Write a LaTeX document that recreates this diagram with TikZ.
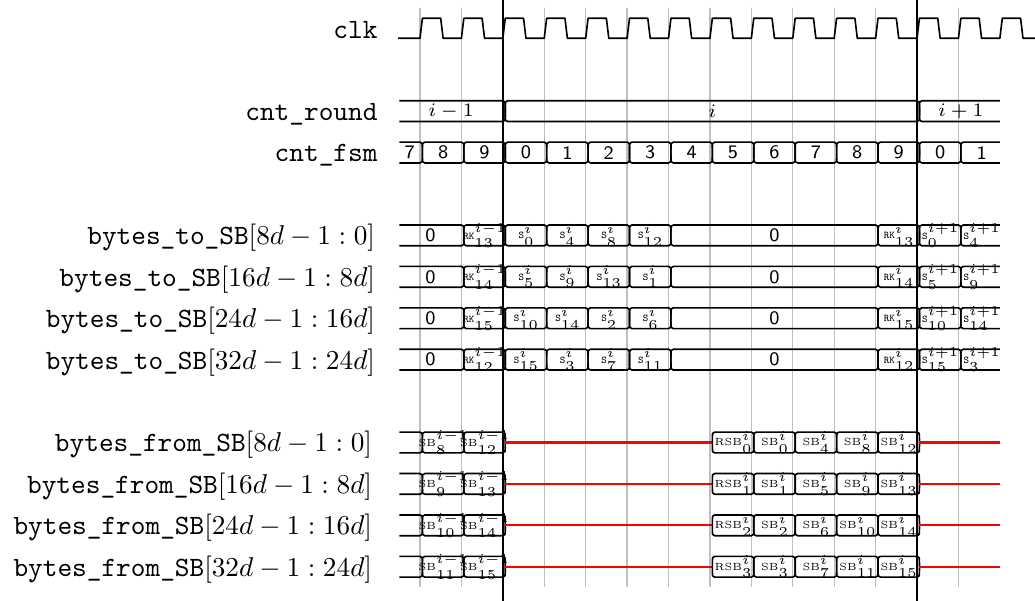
\documentclass[tikz,border=0pt]{standalone}

% scripts of the byte names keep the size of their base line
\DeclareMathSizes{4.3}{4.3}{4.3}{4.3}
\setlength\scriptspace{0pt}

% one bus segment with curved transitions at both ends
% #1 node name, #2 extra node style, #3 row index, #4 start slot, #5 end slot, #6 value
\newcommand\busB[6]{%
  \pgfmathsetmacro\xa{420+41.42*(#4)}%
  \pgfmathsetmacro\xb{420+41.42*(#5)}%
  \pgfmathsetmacro\yc{28.3+41.42*(#3)}%
  \pgfmathsetmacro\yt{\yc-10.4}\pgfmathsetmacro\yb{\yc+10.4}%
  \pgfmathsetmacro\xl{\xa+2.4}\pgfmathsetmacro\xL{\xa+4.8}%
  \pgfmathsetmacro\xr{\xb+2.4}%
  \draw[sig] (\xl,\yc) .. controls (\xl,\yt) .. (\xL,\yt) -- (\xb,\yt)
    .. controls (\xr,\yt) .. (\xr,\yc) .. controls (\xr,\yb) .. (\xb,\yb)
    -- (\xL,\yb) .. controls (\xl,\yb) .. (\xl,\yc) -- cycle;
  \node[val,#2] (#1) at ({(\xL+\xb)/2},\yc) {#6};}

% bus segment that starts flat at the left edge of the trace
\newcommand\busL[6]{%
  \pgfmathsetmacro\xa{420+41.42*(#4)}%
  \pgfmathsetmacro\xb{420+41.42*(#5)}%
  \pgfmathsetmacro\yc{28.3+41.42*(#3)}%
  \pgfmathsetmacro\yt{\yc-10.4}\pgfmathsetmacro\yb{\yc+10.4}%
  \pgfmathsetmacro\xr{\xb+2.4}%
  \draw[sig] (\xa,\yt) -- (\xb,\yt)
    .. controls (\xr,\yt) .. (\xr,\yc) .. controls (\xr,\yb) .. (\xb,\yb)
    -- (\xa,\yb);
  \node[val,#2] (#1) at ({(\xa+\xb)/2},\yc) {#6};}

% bus segment that ends flat at the right edge of the trace
\newcommand\busR[6]{%
  \pgfmathsetmacro\xa{420+41.42*(#4)}%
  \pgfmathsetmacro\xb{420+41.42*(#5)}%
  \pgfmathsetmacro\yc{28.3+41.42*(#3)}%
  \pgfmathsetmacro\yt{\yc-10.4}\pgfmathsetmacro\yb{\yc+10.4}%
  \pgfmathsetmacro\xl{\xa+2.4}\pgfmathsetmacro\xL{\xa+4.8}%
  \draw[sig] (\xb,\yt) -- (\xL,\yt) .. controls (\xl,\yt) .. (\xl,\yc)
    .. controls (\xl,\yb) .. (\xL,\yb) -- (\xb,\yb);
  \node[val,#2] (#1) at ({(\xL+\xb)/2},\yc) {#6};}

% high-impedance stretch of a bus, between two slot positions
\newcommand\busZ[3]{%
  \pgfmathsetmacro\xa{420+41.42*(#2)+2.4}%
  \pgfmathsetmacro\xb{420+41.42*(#3)+2.4}%
  \pgfmathsetmacro\yc{28.3+41.42*(#1)}%
  \draw[hiz] (\xa,\yc) -- (\xb,\yc);}

% byte names inside the bus segments
\newcommand\bytebase{\fontsize{3.8}{4.5}\selectfont}
\newcommand\tRK[2]{$\mbox{\bytebase\ttfamily RK}^{#1}_{#2}$}
\newcommand\tS[2]{$\mbox{\bytebase\ttfamily S}^{#1}_{#2}$}
\newcommand\tSB[2]{$\mbox{\bytebase SB}^{#1}_{#2}$}
\newcommand\tRSB[2]{$\mbox{\bytebase RSB}^{#1}_{#2}$}

\begin{document}
\begin{tikzpicture}[x=0.3667pt,y=-0.3667pt,
  sig/.style={line width=0.6pt,line join=round},
  gridline/.style={line width=0.45pt,draw=black!25},
  roundline/.style={line width=0.75pt},
  hiz/.style={draw=red,line width=0.75pt},
  lbl/.style={anchor=base east,inner sep=0pt,font=\fontsize{10.25}{12}\selectfont},
  val/.style={inner sep=0pt,font=\sffamily\scriptsize},
  byte/.style={font=\fontsize{4.3}{5.2}\selectfont},
  rnd/.style={font=\scriptsize}]
\useasboundingbox (0,0) rectangle (1035,601);

% clock period grid
\foreach \k in {0,1,3,4,5,6,7,8,9,10,11,13}
  \draw[gridline] ({420+41.42*\k},8) -- ({420+41.42*\k},587);

% signal names
\node[lbl] (nclk)   at (378,38.3)   {\texttt{clk}};
\node[lbl] (nround) at (378,120.6)  {\texttt{cnt\_round}};
\node[lbl] (nfsm)   at (378,162.0)  {\texttt{cnt\_fsm}};
\node[lbl] (nto0)   at (375.6,244.9)  {\texttt{bytes\_to\_SB}$[8d-1:0]$};
\node[lbl] (nto1)   at (375.6,286.3)  {\texttt{bytes\_to\_SB}$[16d-1:8d]$};
\node[lbl] (nto2)   at (375.6,327.7)  {\texttt{bytes\_to\_SB}$[24d-1:16d]$};
\node[lbl] (nto3)   at (375.6,369.1)  {\texttt{bytes\_to\_SB}$[32d-1:24d]$};
\node[lbl] (nfrom0) at (372.6,452.0)  {\texttt{bytes\_from\_SB}$[8d-1:0]$};
\node[lbl] (nfrom1) at (372.6,493.4)  {\texttt{bytes\_from\_SB}$[16d-1:8d]$};
\node[lbl] (nfrom2) at (372.6,534.8)  {\texttt{bytes\_from\_SB}$[24d-1:16d]$};
\node[lbl] (nfrom3) at (372.6,576.2)  {\texttt{bytes\_from\_SB}$[32d-1:24d]$};

% clk
\draw[sig] (398,38.3) foreach \k in {0,...,14} {
    -- ({420+41.42*\k},38.3) -- ({422.4+41.42*\k},18.3)
    -- ({440.71+41.42*\k},18.3) -- ({443.11+41.42*\k},38.3) }
  -- (1035,38.3);

% cnt_round
\busL{r0}{rnd}{2}{-0.5}{2}{$i-1$}
\busB{r1}{rnd}{2}{2}{12}{$i$}
\busR{r2}{rnd}{2}{12}{14}{$i+1$}

% cnt_fsm
\busL{fs}{}{3}{-0.5}{0}{7}
\foreach \k/\v in {0/8,1/9,2/0,3/1,4/2,5/3,6/4,7/5,8/6,9/7,10/8,11/9,12/0}
  {\busB{f\k}{}{3}{\k}{\k+1}{\v}}
\busR{fe}{}{3}{13}{14}{1}

% bytes_to_SB lanes
\foreach \r/\rk/\a/\b/\c/\d/\e/\f [count=\n] in
  {5/13/0/4/8/12/0/4, 6/14/5/9/13/1/5/9, 7/15/10/14/2/6/10/14, 8/12/15/3/7/11/15/3}
{
  \busL{t\n a}{}{\r}{-0.5}{1}{0}
  \busB{t\n b}{byte}{\r}{1}{2}{\tRK{i-1}{\rk}}
  \busB{t\n c}{byte}{\r}{2}{3}{\tS{i}{\a}}
  \busB{t\n d}{byte}{\r}{3}{4}{\tS{i}{\b}}
  \busB{t\n e}{byte}{\r}{4}{5}{\tS{i}{\c}}
  \busB{t\n f}{byte}{\r}{5}{6}{\tS{i}{\d}}
  \busB{t\n g}{}{\r}{6}{11}{0}
  \busB{t\n h}{byte}{\r}{11}{12}{\tRK{i}{\rk}}
  \busB{t\n i}{byte}{\r}{12}{13}{\tS{i+1}{\e}}
  \busR{t\n j}{byte}{\r}{13}{14}{\tS{i+1}{\f}}
}

% bytes_from_SB lanes
\foreach \r/\a/\b/\c/\d/\e/\f [count=\n] in
  {10/8/12/0/4/8/12, 11/9/13/1/5/9/13, 12/10/14/2/6/10/14, 13/11/15/3/7/11/15}
{
  \busL{s\n a}{}{\r}{-0.5}{0}{}
  \busB{s\n b}{byte}{\r}{0}{1}{\tSB{i-1}{\a}}
  \busB{s\n c}{byte}{\r}{1}{2}{\tSB{i-1}{\b}}
  \busZ{\r}{2}{7}
  \busB{s\n d}{byte}{\r}{7}{8}{\tRSB{i}{\c}}
  \busB{s\n e}{byte}{\r}{8}{9}{\tSB{i}{\c}}
  \busB{s\n f}{byte}{\r}{9}{10}{\tSB{i}{\d}}
  \busB{s\n g}{byte}{\r}{10}{11}{\tSB{i}{\e}}
  \busB{s\n h}{byte}{\r}{11}{12}{\tSB{i}{\f}}
  \busZ{\r}{12}{13.94}
}

% round boundaries
\draw[roundline] ({420+41.42*2},0) -- ({420+41.42*2},601);
\draw[roundline] ({420+41.42*12},0) -- ({420+41.42*12},601);
\end{tikzpicture}
\end{document}
